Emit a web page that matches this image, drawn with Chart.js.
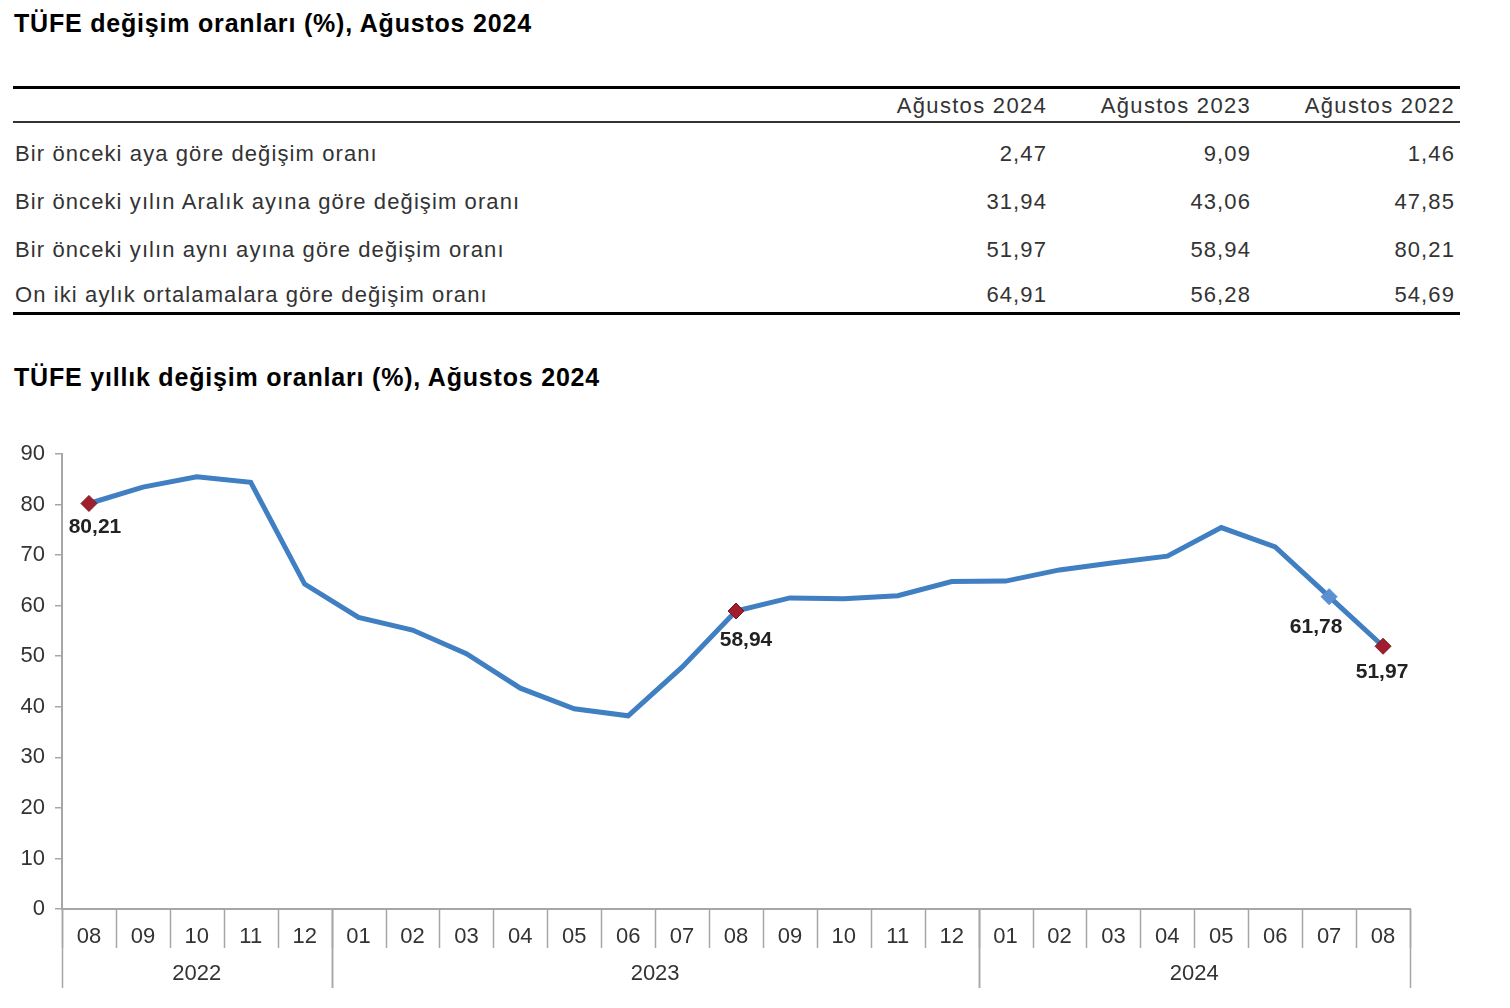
<!DOCTYPE html>
<html>
<head>
<meta charset="utf-8">
<script src="https://cdn.jsdelivr.net/npm/chart.js@4.4.1/dist/chart.umd.min.js"></script>
<style>
  html, body { margin:0; padding:0; background:#fff; }
  body { width:1510px; height:1008px; position:relative; overflow:hidden; font-family:'Liberation Sans', Arial, sans-serif; }
  .title { position:absolute; left:14px; font-weight:bold; font-size:25px; letter-spacing:0.8px; color:#000; white-space:nowrap; line-height:30px; }
  .rule { position:absolute; left:13px; width:1447px; background:#000; }
  .cell { position:absolute; font-size:22px; letter-spacing:1.1px; color:#333; white-space:nowrap; line-height:30px; }
  .hdr { letter-spacing:1.3px; }
  #wrap { position:absolute; left:0; top:420px; width:1510px; height:588px; }
</style>
</head>
<body>
<div class="title" style="top:8px;">TÜFE değişim oranları (%), Ağustos 2024</div>
<div class="rule" style="top:86px;height:3px;"></div>
<div class="rule" style="top:121px;height:2px;background:#333;"></div>
<div class="rule" style="top:312px;height:3px;"></div>
<div id="table"></div>
<div class="title" style="top:362px;">TÜFE yıllık değişim oranları (%), Ağustos 2024</div>
<div id="wrap"><canvas id="c" width="1510" height="588"></canvas></div>
<script>
// ---- Table data ----
const tableHeaders = ['Ağustos 2024', 'Ağustos 2023', 'Ağustos 2022'];
const tableRowLabels = [
  'Bir önceki aya göre değişim oranı',
  'Bir önceki yılın Aralık ayına göre değişim oranı',
  'Bir önceki yılın aynı ayına göre değişim oranı',
  'On iki aylık ortalamalara göre değişim oranı'
];
const tableAug2024 = ['2,47', '31,94', '51,97', '64,91'];
const tableAug2023 = ['9,09', '43,06', '58,94', '56,28'];
const tableAug2022 = ['1,46', '47,85', '80,21', '54,69'];

// ---- Chart data ----
const months = ['08','09','10','11','12','01','02','03','04','05','06','07','08','09','10','11','12','01','02','03','04','05','06','07','08'];
const annualChange = [80.21,83.45,85.51,84.39,64.27,57.68,55.18,50.51,43.68,39.59,38.21,47.83,58.94,61.53,61.36,61.98,64.77,64.86,67.07,68.50,69.80,75.45,71.60,61.78,51.97];
const yearLabels = ['2022','2023','2024'];
const monthsPerYear = [5, 12, 8];
const labelledPoints = [0, 12, 23, 24];
const yTicks = [0,10,20,30,40,50,60,70,80,90];

// build table
(function(){
  const t = document.getElementById('table');
  const colRight = [1047, 1251, 1455];
  const headerCenter = 106;
  const rowCenters = [154, 202, 250, 295];
  const cols = [tableAug2024, tableAug2023, tableAug2022];
  tableHeaders.forEach((h, i) => {
    const d = document.createElement('div');
    d.className = 'cell hdr';
    d.textContent = h;
    d.style.top = (headerCenter - 15) + 'px';
    d.style.right = (1510 - colRight[i]) + 'px';
    t.appendChild(d);
  });
  tableRowLabels.forEach((lab, r) => {
    const d = document.createElement('div');
    d.className = 'cell';
    d.textContent = lab;
    d.style.top = (rowCenters[r] - 15) + 'px';
    d.style.left = '15px';
    t.appendChild(d);
    cols.forEach((col, c) => {
      const v = document.createElement('div');
      v.className = 'cell';
      v.textContent = col[r];
      v.style.top = (rowCenters[r] - 15) + 'px';
      v.style.right = (1510 - colRight[c]) + 'px';
      t.appendChild(v);
    });
  });
})();

const AXIS_COLOR = '#a6a6a6';
const TICK_FONT = "'Liberation Sans Narrow', 'Arial Narrow', 'Liberation Sans', Arial, sans-serif";

const labelOffsets = { 0: [6, 24], 12: [10, 29], 23: [-13, 31], 24: [-1, 26] };

const groupPlugin = {
  id: 'groups',
  afterDraw(chart) {
    const ctx = chart.ctx;
    const x = chart.scales.x;
    const area = chart.chartArea;
    const half = (x.getPixelForValue(1) - x.getPixelForValue(0)) / 2;
    ctx.save();
    ctx.strokeStyle = AXIS_COLOR;
    ctx.lineWidth = 1.5;
    // month separators
    for (let i = 0; i <= months.length; i++) {
      const px = Math.round(x.getPixelForValue(0) - half + i * half * 2) + 0.5;
      ctx.beginPath();
      ctx.moveTo(px, area.bottom);
      ctx.lineTo(px, area.bottom + 39);
      ctx.stroke();
    }
    // year groups
    let start = 0;
    ctx.fillStyle = '#333';
    ctx.font = '22px ' + TICK_FONT;
    ctx.textAlign = 'center';
    ctx.textBaseline = 'middle';
    const bounds = [];
    yearLabels.forEach((yl, gi) => {
      const end = start + monthsPerYear[gi] - 1;
      const l = x.getPixelForValue(start) - half;
      const r = x.getPixelForValue(end) + half;
      bounds.push(l, r);
      ctx.fillText(yl, (l + r) / 2, area.bottom + 65);
      start = end + 1;
    });
    bounds.forEach(b => {
      const px = Math.round(b) + 0.5;
      ctx.beginPath();
      ctx.moveTo(px, area.bottom);
      ctx.lineTo(px, area.bottom + 79);
      ctx.stroke();
    });
    // data labels
    const meta = chart.getDatasetMeta(0);
    ctx.fillStyle = '#222';
    ctx.font = "bold 21px 'Liberation Sans', Arial, sans-serif";
    labelledPoints.forEach(i => {
      const p = meta.data[i];
      const off = labelOffsets[i];
      ctx.fillText(annualChange[i].toFixed(2).replace('.', ','), p.x + off[0], p.y + off[1]);
    });
    ctx.restore();
  }
};

new Chart(document.getElementById('c'), {
  type: 'line',
  data: {
    labels: months,
    datasets: [{
      data: annualChange,
      borderColor: '#3f7fc2',
      borderWidth: 5,
      tension: 0,
      pointStyle: 'rectRot',
      pointRadius: ctx => labelledPoints.includes(ctx.dataIndex) ? 8 : 0,
      pointHoverRadius: ctx => labelledPoints.includes(ctx.dataIndex) ? 8 : 0,
      pointBackgroundColor: ctx => ctx.dataIndex === 23 ? '#5b8fd2' : '#a01f2e',
      pointBorderColor: ctx => ctx.dataIndex === 23 ? '#5b8fd2' : '#7d1622',
      pointBorderWidth: 1
    }]
  },
  options: {
    responsive: false,
    animation: false,
    events: [],
    layout: { padding: { left: 0, right: 100, top: 34, bottom: 0 } },
    plugins: { legend: { display: false }, tooltip: { enabled: false }, title: { display: false } },
    scales: {
      x: {
        type: 'category',
        offset: true,
        afterFit: s => { s.height = 99; },
        grid: { display: false },
        border: { display: true, color: AXIS_COLOR, width: 2 },
        ticks: { color: '#333', font: { family: TICK_FONT, size: 22 }, padding: 7, maxRotation: 0, autoSkip: false }
      },
      y: {
        min: 0, max: 90,
        afterFit: s => { s.width = 62; },
        afterBuildTicks: s => { s.ticks = yTicks.map(v => ({ value: v })); },
        grid: { drawOnChartArea: false, drawTicks: true, tickLength: 7, color: AXIS_COLOR, lineWidth: 1.5 },
        border: { display: true, color: AXIS_COLOR, width: 2 },
        ticks: { color: '#333', font: { family: TICK_FONT, size: 22 }, padding: 10 }
      }
    }
  },
  plugins: [groupPlugin]
});
</script>
</body>
</html>
